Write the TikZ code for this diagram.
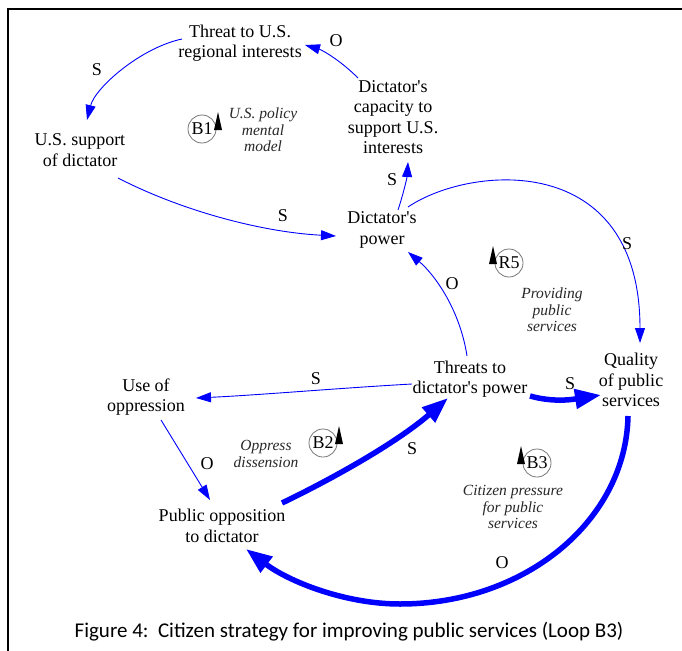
\documentclass[tikz,border=0pt]{standalone}
\usepackage{fontspec}
\setmainfont{Liberation Serif}
\newfontfamily\capfont{Carlito}
\usetikzlibrary{arrows.meta,calc}

\definecolor{linkblue}{RGB}{0,0,255}
\definecolor{loopgray}{RGB}{120,120,120}
\definecolor{notegray}{RGB}{40,40,40}

% loop marker: name, x, y, label, side of the arrow (1 = right, -1 = left)
\newcommand\loopsign[5]{%
  \draw[loopgray, line width=0.8pt] (#2,#3) circle (14pt);
  \fill[black] ({#2+#5*16},{#3-17}) -- ({#2+#5*16-4},{#3+1}) -- ({#2+#5*16+4},{#3+1}) -- cycle;
  \node[pol] (#1) at (#2,#3) {#4};
}

\begin{document}
\begin{tikzpicture}[x=1pt,y=-1pt,
  var/.style={align=center, font=\fontsize{18}{20.5}\selectfont, inner sep=0pt},
  pol/.style={font=\fontsize{18}{20}\selectfont, inner sep=0pt},
  note/.style={align=center, font=\fontsize{15.5}{16.5}\selectfont\itshape, text=notegray, inner sep=0pt},
  thin link/.style={draw=linkblue, line width=0.9pt, -{Triangle[length=15pt,width=10pt]}},
  thick link/.style={draw=linkblue, line width=5.5pt, -{Triangle[length=26pt,width=19pt]}},
]
\useasboundingbox (0,0) rectangle (682,650);
\fill[white] (0,0) rectangle (682,650);

% frame
\draw[line width=2pt] (8,652) -- (8,9) -- (684,9);

% variables
\node[var] (threat) at (240,43) {Threat to U.S.\\regional interests};
\node[var] (capacity) at (393,117) {Dictator\textquotesingle s\\capacity to\\support U.S.\\interests};
\node[var] (support) at (80,150) {U.S. support\\of dictator};
\node[var] (power) at (382,230) {Dictator\textquotesingle s\\power};
\node[var] (threats) at (470,379) {Threats to\\dictator\textquotesingle s power};
\node[var] (quality) at (631,380) {Quality\\of public\\services};
\node[var] (oppression) at (146,397) {Use of\\oppression};
\node[var] (opposition) at (222,526) {Public opposition\\to dictator};
\coordinate (arcbottom) at (400,604);

% links
\draw[thin link] ($(capacity)+(-35,-39)$) .. controls +(-18,-18) and +(17,5) .. ($(threat)+(65,2)$);
\draw[thin link] ($(threat)+(-58,-4)$) .. controls +(-42,9) and +(8,-32) .. ($(support)+(7,-30)$);
\draw[thin link] ($(support)+(38,28)$) .. controls +(62,32) and +(-76,-4) .. ($(power)+(-46,6)$);
\draw[thin link] ($(power)+(16,-20)$) .. controls +(5,-15) and +(-1,16) .. ($(capacity)+(15,45)$);
\draw[thin link] ($(power)+(26,-23)$) .. controls +(62,-42) and +(0,-193) .. ($(quality)+(9,-37)$);
\draw[thin link] ($(threats)+(-3,-23)$) .. controls +(-7,-46) and +(27,23) .. ($(power)+(26,22)$);
\draw[thin link] ($(threats)+(-58,5)$) .. controls +(-72,4) and +(64,-3) .. ($(oppression)+(50,1)$);
\draw[thin link] ($(oppression)+(15,23)$) -- ($(opposition)+(-12,-26)$);
\draw[thick link] ($(opposition)+(60,-23)$) .. controls +(58,-28) and +(-48,42) .. ($(threats)+(-22,19)$);
\draw[thick link] ($(threats)+(60,17)$) .. controls +(25,7) and +(-26,4) .. ($(quality)+(-30,15)$);
\draw[thick link] ($(quality)+(-3,36)$) .. controls +(-2,104) and +(126,0) .. (arcbottom)
  .. controls +(-56,0) and +(42,32) .. ($(opposition)+(24,23)$);

% polarities
\node[pol] (p1) at (336,41) {O};
\node[pol] (p2) at (97,70) {S};
\node[pol] (p3) at (283,216) {S};
\node[pol] (p4) at (392,180) {S};
\node[pol] (p5) at (627,244) {S};
\node[pol] (p6) at (452,284) {O};
\node[pol] (p7) at (316,379) {S};
\node[pol] (p8) at (207,464) {O};
\node[pol] (p9) at (412,449) {S};
\node[pol] (p10) at (570,384) {S};
\node[pol] (p11) at (502,563) {O};

% loop markers and names
\loopsign{b1}{202}{129}{B1}{1}
\loopsign{r5}{509}{263}{R5}{-1}
\loopsign{b2}{323}{443}{B2}{1}
\loopsign{b3}{537}{463}{B3}{-1}
\node[note] (n1) at (263,130) {U.S. policy\\mental\\model};
\node[note] (n5) at (552,310) {Providing\\public\\services};
\node[note] (n2) at (266,454) {Oppress\\dissension};
\node[note] (n3) at (513,507) {Citizen pressure\\for public\\services};

% caption
\node[font=\capfont\fontsize{21}{24}\selectfont, inner sep=0pt] (caption) at (349,632)
  {Figure 4:\ \ Citizen strategy for improving public services (Loop B3)};
\end{tikzpicture}
\end{document}
